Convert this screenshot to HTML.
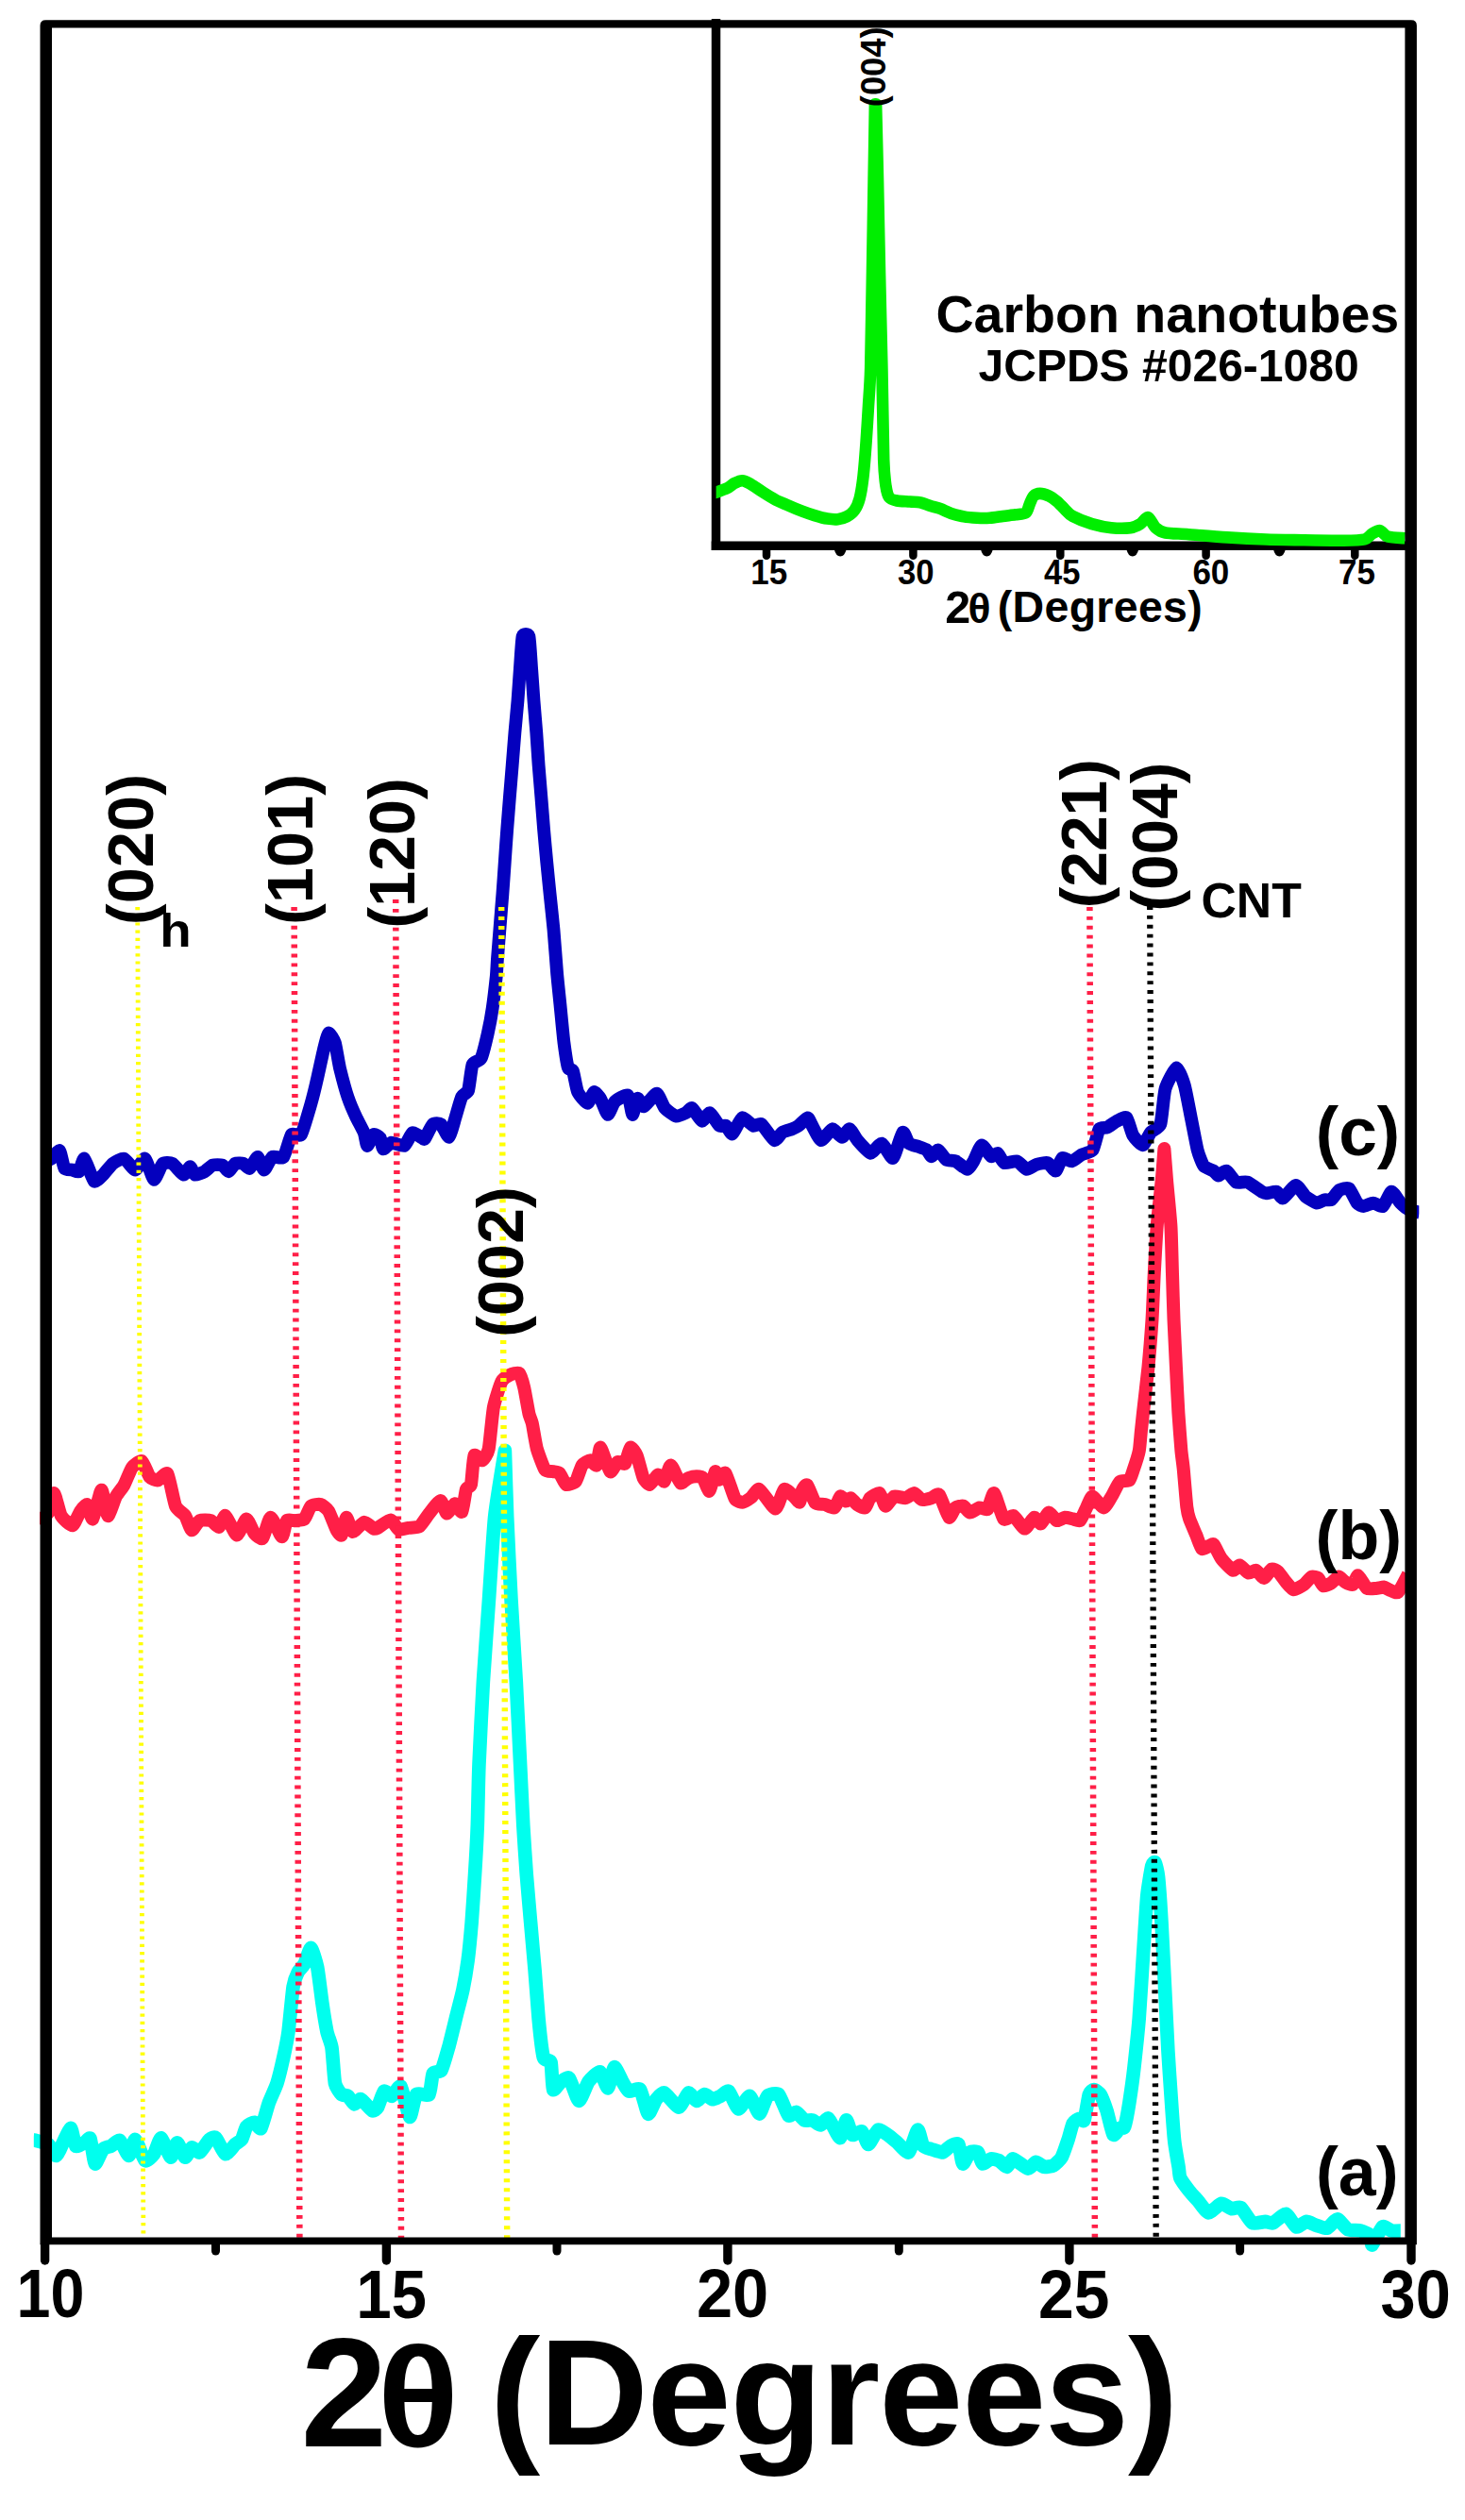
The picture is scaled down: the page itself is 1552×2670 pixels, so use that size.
<!DOCTYPE html>
<html lang="en"><head><meta charset="utf-8"><title>XRD patterns</title>
<style>html,body{margin:0;padding:0;background:#fff}body{width:1552px;height:2670px;overflow:hidden}svg{display:block}text{font-family:"Liberation Sans", sans-serif;font-weight:bold;fill:#000}text.se{font-family:"Liberation Serif",serif}.cv{fill:none;stroke-linejoin:round;stroke-linecap:butt}</style></head><body>
<svg width="1552" height="2670" viewBox="0 0 1552 2670">
<rect width="1552" height="2670" fill="#fff"/>
<defs><clipPath id="cc"><rect x="35.8" y="0" width="1448" height="2670"/></clipPath></defs>
<path class="cv" clip-path="url(#cc)" d="M34.1,2266.9C35.7,2267.4 48.9,2270.4 51.2,2272.0C53.5,2273.6 58.1,2284.5 59.7,2284.0C61.3,2283.5 66.9,2269.6 68.3,2266.9C69.7,2264.2 74.0,2254.3 75.1,2254.9C76.2,2255.5 78.9,2272.3 80.2,2273.7C81.5,2275.1 88.0,2271.0 89.4,2270.3C90.8,2269.6 94.6,2263.9 95.6,2265.9C96.6,2267.9 99.5,2291.5 100.7,2292.5C101.9,2293.5 107.6,2278.8 109.2,2277.1C110.8,2275.4 116.1,2274.5 117.7,2273.7C119.3,2272.9 125.3,2267.0 127.0,2267.9C128.7,2268.8 135.0,2284.1 136.5,2284.0C138.0,2283.9 141.7,2266.4 143.3,2266.9C144.9,2267.4 151.8,2287.7 153.6,2289.1C155.4,2290.5 161.5,2284.5 163.1,2282.3C164.7,2280.1 169.0,2264.9 170.6,2265.2C172.2,2265.5 179.3,2285.2 180.9,2285.7C182.5,2286.2 186.3,2270.3 187.7,2270.3C189.1,2270.3 194.8,2285.2 196.2,2285.7C197.6,2286.2 201.7,2275.9 203.1,2275.4C204.5,2274.9 209.9,2281.3 211.6,2280.5C213.3,2279.7 220.2,2268.3 221.8,2266.9C223.4,2265.5 227.1,2263.8 228.7,2265.2C230.3,2266.6 237.0,2281.7 238.9,2282.3C240.8,2282.9 247.5,2273.4 249.1,2272.0C250.7,2270.6 254.9,2268.6 256.0,2266.9C257.1,2265.2 259.9,2254.9 261.1,2253.2C262.3,2251.5 268.2,2248.6 269.6,2248.8C271.0,2249.0 275.1,2256.8 276.5,2254.9C277.9,2253.0 283.4,2232.0 285.0,2227.6C286.6,2223.2 292.1,2211.6 293.5,2207.2C294.9,2202.8 299.2,2184.9 300.3,2179.9C301.4,2174.9 304.6,2159.5 305.5,2152.6C306.4,2145.7 309.7,2110.6 310.6,2104.8C311.5,2099.0 314.6,2091.6 315.7,2089.4C316.8,2087.2 321.2,2083.2 322.5,2080.9C323.8,2078.6 328.1,2063.5 329.4,2063.8C330.7,2064.1 335.1,2079.0 336.2,2084.3C337.3,2089.6 340.4,2115.5 341.3,2121.8C342.2,2128.1 345.5,2148.2 346.4,2152.6C347.3,2157.0 350.7,2164.6 351.5,2169.6C352.3,2174.6 354.0,2202.7 354.9,2207.2C355.8,2211.7 360.5,2217.9 361.8,2219.1C363.1,2220.3 367.4,2219.9 368.6,2220.8C369.8,2221.7 374.1,2229.1 375.4,2229.4C376.7,2229.7 380.6,2223.6 382.3,2224.2C384.0,2224.8 392.6,2235.4 394.2,2236.2C395.8,2237.0 398.8,2234.7 400.0,2232.8C401.2,2230.9 405.4,2216.8 406.8,2215.7C408.2,2214.6 413.8,2221.3 415.4,2220.8C417.0,2220.3 422.9,2208.6 424.6,2210.6C426.3,2212.6 432.6,2242.2 434.1,2243.0C435.6,2243.8 439.1,2221.3 441.0,2219.1C442.9,2216.9 453.0,2221.1 454.6,2219.1C456.2,2217.1 457.5,2199.2 458.7,2196.9C459.9,2194.6 466.1,2196.0 467.6,2193.5C469.1,2191.0 473.6,2174.9 475.1,2169.6C476.6,2164.3 482.2,2141.1 483.6,2135.5C485.0,2129.9 489.3,2113.5 490.4,2108.2C491.5,2102.9 494.7,2084.1 495.6,2077.5C496.5,2070.9 499.0,2045.0 499.7,2036.5C500.4,2028.0 502.5,1994.7 503.1,1985.3C503.7,1975.9 505.4,1944.8 505.8,1934.1C506.2,1923.4 506.9,1883.0 507.5,1869.0C508.1,1855.0 510.9,1797.7 511.9,1781.7C512.9,1765.7 516.9,1710.5 518.0,1694.5C519.1,1678.5 522.6,1621.6 524.1,1607.2C525.6,1592.8 534.9,1537.0 534.9,1537.0C534.9,1537.0 536.6,1592.8 537.2,1607.2C537.8,1621.6 540.6,1678.5 541.5,1694.5C542.4,1710.5 545.9,1765.7 546.8,1781.7C547.7,1797.7 550.4,1855.0 551.1,1869.0C551.8,1883.0 553.7,1923.4 554.3,1934.1C554.9,1944.8 557.0,1975.9 557.7,1985.3C558.4,1994.7 561.3,2027.1 562.1,2036.5C562.9,2045.9 565.8,2078.3 566.6,2087.7C567.4,2097.1 569.8,2130.4 570.6,2138.9C571.4,2147.4 574.6,2175.7 575.8,2179.9C577.0,2184.1 582.7,2181.9 583.6,2185.0C584.5,2188.1 585.0,2212.1 586.0,2214.0C587.0,2215.9 592.9,2206.6 594.5,2205.5C596.1,2204.4 601.4,2200.1 603.1,2202.0C604.8,2203.9 611.4,2225.6 613.3,2225.9C615.2,2226.2 621.5,2208.3 623.5,2205.5C625.5,2202.7 633.6,2194.6 635.5,2195.2C637.4,2195.8 642.6,2212.8 644.0,2212.3C645.4,2211.8 649.5,2190.7 650.9,2190.1C652.3,2189.5 658.0,2203.2 659.4,2205.5C660.8,2207.8 664.5,2214.9 666.2,2215.7C667.9,2216.5 676.3,2211.8 678.2,2214.0C680.1,2216.2 685.1,2238.7 686.7,2239.6C688.3,2240.5 693.6,2226.2 695.2,2224.2C696.8,2222.2 701.6,2216.6 703.8,2217.4C706.0,2218.2 716.8,2232.8 719.1,2232.8C721.4,2232.8 727.7,2218.0 729.4,2217.4C731.1,2216.8 736.3,2225.7 737.9,2225.9C739.5,2226.1 744.8,2219.3 746.4,2219.1C748.0,2218.9 753.3,2224.0 754.9,2224.2C756.5,2224.4 761.9,2221.6 763.5,2220.8C765.1,2220.0 770.3,2214.4 772.0,2215.7C773.7,2217.0 780.3,2234.0 782.3,2234.5C784.3,2235.0 792.2,2220.3 794.2,2220.8C796.2,2221.3 802.7,2239.6 804.4,2239.6C806.1,2239.6 811.1,2222.7 813.0,2220.8C814.9,2218.9 822.9,2217.2 824.9,2219.1C826.9,2221.0 833.5,2239.6 835.2,2241.3C836.9,2243.0 842.1,2237.4 843.7,2237.9C845.3,2238.4 850.6,2245.6 852.2,2246.4C853.8,2247.2 859.2,2245.9 860.8,2246.4C862.4,2246.9 867.7,2251.7 869.3,2251.5C870.9,2251.3 875.9,2243.4 877.8,2244.7C879.7,2246.0 888.1,2265.0 889.8,2265.2C891.5,2265.4 895.4,2246.7 896.6,2246.4C897.8,2246.1 901.4,2260.7 902.9,2261.8C904.4,2262.9 911.5,2257.5 913.1,2258.4C914.7,2259.3 918.4,2272.2 920.0,2272.0C921.6,2271.8 928.3,2257.6 930.2,2256.7C932.1,2255.8 938.5,2260.6 940.4,2261.8C942.3,2263.0 948.7,2268.6 950.7,2270.3C952.7,2272.0 960.6,2281.7 962.6,2280.5C964.6,2279.3 970.8,2257.3 972.2,2256.7C973.6,2256.1 976.7,2271.8 978.0,2273.7C979.3,2275.6 984.6,2276.5 986.5,2277.1C988.4,2277.7 996.6,2280.8 998.5,2280.5C1000.4,2280.2 1005.4,2274.5 1007.0,2273.7C1008.6,2272.9 1014.3,2270.3 1015.5,2272.0C1016.7,2273.7 1018.9,2291.7 1020.0,2292.5C1021.1,2293.3 1026.0,2281.6 1027.5,2280.5C1029.0,2279.4 1034.8,2279.4 1036.0,2280.5C1037.2,2281.6 1039.8,2291.9 1041.1,2292.5C1042.4,2293.1 1048.1,2287.7 1049.7,2287.4C1051.3,2287.1 1056.6,2288.3 1058.2,2289.1C1059.8,2289.9 1065.3,2296.1 1066.7,2295.9C1068.1,2295.7 1071.5,2287.2 1073.5,2287.4C1075.5,2287.6 1086.7,2297.3 1088.9,2297.6C1091.1,2297.9 1095.8,2291.0 1097.4,2290.8C1099.0,2290.6 1104.3,2295.6 1106.0,2295.9C1107.7,2296.2 1114.5,2295.1 1116.2,2294.2C1117.9,2293.3 1123.3,2288.2 1124.7,2285.7C1126.1,2283.2 1130.5,2270.2 1131.6,2266.9C1132.7,2263.6 1135.6,2251.8 1136.7,2249.8C1137.8,2247.8 1142.4,2245.0 1143.5,2244.7C1144.6,2244.4 1147.7,2248.7 1148.6,2246.4C1149.5,2244.1 1152.9,2222.1 1153.8,2219.1C1154.7,2216.1 1157.8,2214.0 1158.9,2214.0C1160.0,2214.0 1164.5,2217.1 1165.7,2219.1C1166.9,2221.1 1171.2,2232.3 1172.5,2236.2C1173.8,2240.1 1178.1,2260.1 1179.4,2261.8C1180.7,2263.5 1185.1,2255.7 1186.2,2254.9C1187.3,2254.1 1190.4,2255.7 1191.3,2253.2C1192.2,2250.7 1195.5,2233.4 1196.4,2227.6C1197.3,2221.8 1200.6,2198.2 1201.5,2190.1C1202.4,2182.0 1205.8,2149.9 1206.7,2138.9C1207.6,2127.9 1210.3,2082.5 1211.1,2070.6C1211.9,2058.7 1214.4,2017.8 1215.2,2009.2C1216.0,2000.6 1219.5,1980.1 1220.3,1976.8C1221.1,1973.5 1223.1,1972.3 1223.7,1973.4C1224.3,1974.5 1226.5,1982.9 1227.1,1988.7C1227.7,1994.5 1229.9,2025.9 1230.5,2036.5C1231.1,2047.1 1233.4,2092.3 1234.0,2104.8C1234.6,2117.3 1236.8,2162.1 1237.4,2173.0C1238.0,2183.9 1240.2,2215.4 1240.8,2224.2C1241.4,2233.0 1243.5,2262.0 1244.2,2268.6C1244.9,2275.2 1248.0,2292.3 1248.6,2295.9C1249.2,2299.5 1249.3,2305.2 1250.3,2307.5C1251.3,2309.8 1258.0,2318.9 1259.8,2321.2C1261.6,2323.5 1267.5,2330.0 1269.4,2332.1C1271.3,2334.2 1278.0,2344.2 1280.3,2344.4C1282.6,2344.6 1291.7,2335.2 1294.0,2334.8C1296.3,2334.4 1303.0,2339.9 1304.9,2340.3C1306.8,2340.7 1312.5,2337.5 1314.5,2338.9C1316.5,2340.3 1324.3,2353.9 1326.7,2355.3C1329.1,2356.7 1338.4,2353.9 1340.4,2353.9C1342.4,2353.9 1346.6,2356.1 1348.6,2355.3C1350.6,2354.5 1359.9,2345.3 1362.2,2345.7C1364.5,2346.1 1371.2,2358.6 1373.2,2359.4C1375.2,2360.2 1382.1,2354.0 1384.1,2353.9C1386.1,2353.8 1393.0,2357.4 1395.0,2358.0C1397.0,2358.6 1403.9,2361.4 1405.9,2360.8C1407.9,2360.2 1414.8,2351.1 1416.8,2351.2C1418.8,2351.3 1425.5,2361.0 1427.8,2362.1C1430.1,2363.2 1439.2,2362.9 1441.4,2363.5C1443.6,2364.1 1451.2,2367.5 1452.3,2368.9C1453.4,2370.3 1452.6,2379.4 1453.7,2378.5C1454.8,2377.6 1462.7,2360.8 1464.6,2359.4C1466.5,2358.0 1472.1,2363.1 1474.2,2363.5C1476.3,2363.9 1486.6,2363.5 1487.8,2363.5" stroke="#00ffee" stroke-width="14.6"/>
<clipPath id="cr"><rect x="42" y="0" width="1460" height="2670"/></clipPath>
<path class="cv" clip-path="url(#cr)" d="M40.3,1612.8C41.3,1611.9 49.6,1605.4 51.2,1602.6C52.8,1599.8 56.1,1581.8 57.3,1582.1C58.5,1582.4 63.0,1602.9 64.8,1606.0C66.6,1609.1 74.9,1616.7 76.8,1616.2C78.7,1615.7 83.9,1602.9 85.3,1600.9C86.7,1598.9 91.0,1593.2 92.2,1594.0C93.4,1594.8 96.9,1610.8 98.3,1609.4C99.7,1608.0 106.0,1579.0 107.5,1578.7C109.0,1578.4 112.9,1605.4 114.3,1606.0C115.7,1606.6 121.3,1588.5 122.9,1585.5C124.5,1582.5 129.8,1576.3 131.4,1573.5C133.0,1570.7 138.2,1557.1 139.9,1554.8C141.6,1552.5 148.5,1547.1 150.2,1548.0C151.9,1548.9 157.1,1563.1 158.7,1565.0C160.3,1566.9 165.5,1568.7 167.2,1568.4C168.9,1568.1 175.8,1559.1 177.5,1561.6C179.2,1564.1 184.3,1591.6 186.0,1595.7C187.7,1599.8 194.6,1603.7 196.2,1606.0C197.8,1608.3 201.7,1620.8 203.1,1621.3C204.5,1621.8 209.7,1612.0 211.6,1611.1C213.5,1610.2 221.6,1610.5 223.5,1611.1C225.4,1611.7 230.7,1618.4 232.1,1617.9C233.5,1617.4 237.2,1605.2 238.9,1606.0C240.6,1606.8 248.9,1626.2 250.9,1626.5C252.9,1626.8 259.4,1609.6 261.1,1609.4C262.8,1609.2 268.0,1622.8 269.6,1624.7C271.2,1626.6 276.6,1631.5 278.2,1629.9C279.8,1628.3 284.8,1607.9 286.7,1607.7C288.6,1607.5 297.0,1627.9 298.6,1628.2C300.2,1628.5 302.5,1612.7 303.8,1611.1C305.1,1609.5 310.6,1611.3 312.3,1611.1C314.0,1610.9 320.9,1610.8 322.5,1609.4C324.1,1608.0 327.8,1597.1 329.4,1595.7C331.0,1594.3 337.9,1593.5 339.6,1594.0C341.3,1594.5 346.5,1598.4 348.1,1600.9C349.7,1603.4 355.4,1619.0 356.7,1621.3C358.0,1623.6 360.9,1627.7 361.8,1626.5C362.7,1625.3 365.8,1608.0 366.9,1607.7C368.0,1607.4 372.0,1622.5 373.7,1623.0C375.4,1623.5 383.7,1613.1 385.7,1612.8C387.7,1612.5 394.6,1619.0 395.9,1619.6C397.2,1620.2 398.4,1619.7 400.0,1618.9C401.6,1618.1 411.7,1610.2 413.7,1610.4C415.7,1610.6 420.5,1619.8 422.2,1620.6C423.9,1621.4 430.4,1619.2 432.4,1618.9C434.4,1618.6 442.4,1618.6 444.4,1617.2C446.4,1615.8 452.6,1606.1 454.6,1603.6C456.6,1601.1 464.9,1589.9 466.6,1589.9C468.3,1589.9 472.0,1603.3 473.4,1603.6C474.8,1603.9 480.4,1593.5 481.9,1593.3C483.4,1593.1 488.3,1603.3 489.4,1601.9C490.5,1600.5 493.0,1580.7 493.9,1578.0C494.8,1575.3 498.2,1576.2 499.0,1572.9C499.8,1569.6 501.3,1544.5 502.4,1542.2C503.5,1539.9 509.5,1547.9 510.9,1547.3C512.3,1546.7 516.6,1540.5 517.7,1535.3C518.8,1530.1 521.6,1497.6 522.9,1491.0C524.2,1484.4 529.8,1466.8 531.4,1463.7C533.0,1460.6 538.2,1457.6 539.9,1456.8C541.6,1456.0 548.8,1453.8 550.2,1455.1C551.6,1456.4 554.4,1466.6 555.3,1470.5C556.2,1474.4 559.6,1494.4 560.4,1497.8C561.2,1501.2 563.0,1504.6 563.8,1508.0C564.6,1511.4 567.6,1530.8 568.9,1535.3C570.2,1539.8 575.9,1555.3 577.5,1557.5C579.1,1559.7 584.6,1558.9 586.0,1559.2C587.4,1559.5 591.5,1559.6 592.8,1560.9C594.1,1562.2 598.1,1572.1 599.7,1572.9C601.3,1573.7 608.3,1571.4 609.9,1569.5C611.5,1567.6 615.3,1554.4 616.7,1552.4C618.1,1550.4 623.9,1547.3 625.3,1547.3C626.7,1547.3 631.1,1553.7 632.1,1552.4C633.1,1551.1 634.9,1533.0 636.2,1533.6C637.5,1534.2 644.7,1557.8 646.4,1559.2C648.1,1560.6 652.9,1549.8 654.3,1549.0C655.7,1548.2 660.9,1552.1 662.1,1550.7C663.3,1549.3 666.7,1534.4 667.9,1533.6C669.1,1532.8 673.4,1539.2 674.7,1542.2C676.0,1545.2 680.3,1563.2 681.6,1566.0C682.9,1568.8 687.0,1573.2 688.4,1572.9C689.8,1572.6 695.5,1562.9 696.9,1562.6C698.3,1562.3 702.5,1570.4 703.8,1569.5C705.1,1568.6 709.0,1552.2 710.6,1552.4C712.2,1552.6 719.1,1570.0 720.8,1571.2C722.5,1572.4 727.8,1566.6 729.4,1566.0C731.0,1565.4 736.5,1564.3 737.9,1564.3C739.3,1564.3 743.5,1564.6 744.7,1566.0C745.9,1567.4 750.3,1580.3 751.5,1579.7C752.7,1579.1 756.8,1560.3 757.7,1559.2C758.6,1558.1 760.8,1567.5 761.8,1567.7C762.8,1567.9 767.0,1559.0 768.6,1560.9C770.2,1562.8 777.1,1585.4 778.8,1588.2C780.5,1591.0 785.8,1591.8 787.4,1591.6C789.0,1591.4 794.3,1587.7 795.9,1586.5C797.5,1585.3 802.1,1576.9 804.4,1578.0C806.7,1579.1 819.1,1598.5 821.5,1598.5C823.9,1598.5 829.0,1579.3 830.7,1578.0C832.4,1576.7 838.8,1583.6 840.3,1584.8C841.8,1586.0 846.2,1592.2 847.1,1591.6C848.0,1591.0 849.3,1580.4 850.0,1578.7C850.7,1577.0 853.8,1572.3 855.1,1573.5C856.4,1574.7 862.0,1590.4 863.7,1592.3C865.4,1594.2 872.0,1593.5 873.9,1594.0C875.8,1594.5 882.6,1598.2 884.1,1597.4C885.6,1596.6 889.2,1586.1 890.3,1585.5C891.4,1584.9 895.1,1590.4 896.1,1590.6C897.1,1590.8 900.1,1586.9 901.2,1587.2C902.3,1587.5 906.6,1593.1 908.0,1594.0C909.4,1594.9 915.3,1598.0 916.6,1597.4C917.9,1596.8 920.3,1588.6 921.7,1587.2C923.1,1585.8 930.4,1581.3 931.9,1582.1C933.4,1582.9 936.7,1595.4 938.1,1595.7C939.5,1596.0 945.4,1586.3 947.3,1585.5C949.2,1584.7 957.2,1587.5 959.2,1587.2C961.2,1586.9 967.2,1581.9 968.8,1582.1C970.4,1582.3 974.7,1588.4 976.3,1588.9C977.9,1589.4 984.8,1587.7 986.5,1587.2C988.2,1586.7 993.4,1581.9 995.1,1583.8C996.8,1585.7 1003.7,1606.5 1005.3,1607.7C1006.9,1608.9 1010.7,1598.5 1012.1,1597.4C1013.5,1596.3 1019.2,1595.2 1020.6,1595.7C1022.0,1596.2 1025.9,1602.4 1027.5,1602.6C1029.1,1602.8 1036.0,1597.7 1037.7,1597.4C1039.4,1597.1 1044.8,1600.5 1046.2,1599.1C1047.6,1597.7 1051.5,1581.2 1053.1,1582.1C1054.7,1583.0 1061.4,1607.2 1063.3,1609.4C1065.2,1611.6 1071.5,1605.1 1073.5,1606.0C1075.5,1606.9 1083.5,1619.4 1085.5,1619.6C1087.5,1619.8 1094.1,1608.2 1095.7,1607.7C1097.3,1607.2 1101.2,1615.0 1102.6,1614.5C1104.0,1614.0 1109.5,1602.9 1111.1,1602.6C1112.7,1602.3 1118.0,1610.6 1119.6,1611.1C1121.2,1611.6 1126.6,1607.9 1128.2,1607.7C1129.8,1607.5 1135.2,1609.1 1136.7,1609.4C1138.2,1609.7 1143.0,1612.0 1144.2,1611.1C1145.4,1610.2 1149.1,1601.4 1150.3,1599.1C1151.5,1596.8 1155.5,1585.7 1157.2,1585.5C1158.9,1585.3 1167.2,1597.4 1169.1,1597.4C1171.0,1597.4 1176.0,1588.0 1177.6,1585.5C1179.2,1583.0 1184.5,1571.7 1186.2,1570.1C1187.9,1568.5 1195.1,1569.6 1196.4,1568.4C1197.7,1567.2 1199.8,1559.9 1200.8,1557.0C1201.8,1554.1 1206.1,1540.7 1206.8,1537.1C1207.5,1533.5 1208.4,1520.9 1208.8,1517.3C1209.2,1513.7 1210.2,1503.8 1210.9,1497.4C1211.6,1491.0 1215.6,1457.0 1216.5,1447.9C1217.4,1438.8 1219.9,1407.4 1220.5,1398.3C1221.1,1389.2 1222.3,1357.8 1222.8,1348.7C1223.3,1339.6 1225.0,1308.0 1225.7,1299.0C1226.4,1290.0 1230.1,1257.5 1230.8,1250.0C1231.5,1242.5 1233.4,1217.0 1233.4,1217.0C1233.4,1217.0 1235.4,1242.5 1236.0,1250.0C1236.6,1257.5 1239.9,1289.8 1240.4,1299.0C1241.0,1308.2 1241.7,1340.9 1242.0,1350.0C1242.3,1359.1 1243.1,1388.8 1243.5,1398.0C1243.9,1407.2 1245.6,1440.9 1246.0,1450.0C1246.4,1459.1 1247.9,1489.0 1248.4,1497.0C1248.9,1505.0 1250.9,1531.5 1251.4,1537.0C1251.9,1542.5 1253.3,1551.5 1253.8,1557.0C1254.3,1562.5 1256.7,1591.8 1257.3,1596.6C1257.9,1601.4 1259.1,1606.3 1260.0,1609.0C1260.9,1611.7 1266.0,1623.4 1267.2,1626.3C1268.4,1629.2 1271.9,1639.9 1273.2,1641.0C1274.5,1642.1 1279.7,1638.3 1280.9,1637.9C1282.1,1637.5 1284.6,1635.3 1285.8,1636.5C1287.0,1637.7 1292.1,1649.0 1294.0,1651.5C1295.9,1654.0 1304.5,1663.2 1306.3,1663.8C1308.1,1664.4 1311.6,1658.1 1313.1,1658.4C1314.6,1658.7 1321.0,1666.1 1322.6,1666.6C1324.2,1667.1 1329.3,1663.3 1330.8,1663.8C1332.3,1664.3 1337.5,1672.1 1339.0,1672.0C1340.5,1671.9 1345.8,1663.1 1347.2,1662.5C1348.6,1661.9 1352.6,1664.0 1354.0,1665.2C1355.4,1666.4 1360.7,1674.3 1362.2,1676.1C1363.7,1677.9 1368.6,1684.1 1370.4,1684.3C1372.2,1684.5 1379.6,1680.1 1381.4,1678.8C1383.2,1677.5 1388.1,1671.2 1389.5,1670.6C1390.9,1670.0 1395.3,1671.1 1396.4,1672.0C1397.5,1672.9 1400.6,1679.7 1401.8,1680.2C1403.0,1680.7 1408.5,1678.4 1410.0,1677.5C1411.5,1676.6 1416.8,1670.7 1418.2,1670.6C1419.6,1670.5 1423.6,1675.3 1425.0,1676.1C1426.4,1676.9 1431.9,1679.4 1433.2,1678.8C1434.5,1678.2 1437.3,1668.9 1438.7,1669.3C1440.1,1669.7 1446.4,1681.7 1448.2,1682.9C1450.0,1684.1 1456.2,1683.0 1457.8,1682.9C1459.4,1682.8 1464.7,1681.5 1466.0,1681.6C1467.3,1681.7 1470.1,1683.8 1471.5,1684.3C1472.9,1684.8 1479.1,1688.5 1481.0,1687.0C1482.9,1685.5 1490.9,1669.7 1491.9,1667.9" stroke="#ff1f47" stroke-width="14"/>
<clipPath id="cb"><rect x="46" y="0" width="1457.3" height="2670"/></clipPath>
<path class="cv" clip-path="url(#cb)" d="M42.7,1232.8C43.8,1232.3 52.7,1228.9 54.6,1227.6C56.5,1226.3 61.8,1218.2 63.1,1219.1C64.4,1220.0 67.0,1236.0 68.3,1237.9C69.6,1239.8 75.4,1239.3 76.8,1239.6C78.2,1239.9 82.4,1242.4 83.6,1241.3C84.8,1240.2 87.9,1226.7 89.4,1227.6C90.9,1228.5 97.9,1249.9 99.7,1251.5C101.5,1253.1 107.4,1246.4 109.2,1244.7C111.0,1243.0 117.5,1234.4 119.5,1232.8C121.5,1231.2 129.2,1227.0 131.4,1227.6C133.6,1228.2 141.3,1239.6 143.3,1239.6C145.3,1239.6 151.8,1226.7 153.6,1227.6C155.4,1228.5 161.4,1249.3 163.1,1249.8C164.8,1250.3 170.6,1234.4 172.4,1232.8C174.2,1231.2 180.6,1231.7 182.6,1232.8C184.6,1233.9 192.8,1244.4 194.5,1244.7C196.2,1245.0 200.3,1236.2 201.4,1236.2C202.5,1236.2 205.1,1244.2 206.5,1244.7C207.9,1245.2 215.0,1242.2 216.7,1241.3C218.4,1240.4 223.6,1235.1 225.3,1234.5C227.0,1233.9 233.9,1233.9 235.5,1234.5C237.1,1235.1 241.1,1241.5 242.3,1241.3C243.5,1241.1 247.7,1233.6 249.1,1232.8C250.5,1232.0 256.3,1232.3 257.7,1232.8C259.1,1233.3 263.1,1238.5 264.5,1237.9C265.9,1237.3 271.6,1225.7 273.0,1225.9C274.4,1226.1 278.5,1239.6 279.9,1239.6C281.3,1239.6 286.5,1227.2 288.4,1225.9C290.3,1224.6 298.4,1228.1 300.3,1225.9C302.2,1223.7 307.2,1204.2 308.9,1202.0C310.6,1199.8 317.2,1205.0 319.1,1202.0C321.0,1199.0 327.8,1175.1 329.4,1169.6C331.0,1164.1 335.0,1147.6 336.2,1142.3C337.4,1137.0 341.9,1116.0 343.0,1111.6C344.1,1107.2 347.0,1095.1 348.1,1094.5C349.2,1093.9 353.8,1101.4 354.9,1104.8C356.0,1108.2 358.8,1126.8 360.1,1132.1C361.4,1137.4 367.0,1158.1 368.6,1162.8C370.2,1167.5 375.5,1179.9 377.1,1183.3C378.7,1186.7 384.6,1197.5 385.7,1200.3C386.8,1203.1 388.2,1213.8 389.1,1214.0C390.0,1214.2 394.7,1202.8 395.9,1202.0C397.1,1201.2 401.8,1204.1 402.7,1205.5C403.6,1206.9 405.0,1216.9 406.1,1217.4C407.2,1217.9 412.7,1210.9 414.7,1210.6C416.7,1210.3 426.3,1214.9 428.3,1214.0C430.3,1213.1 435.2,1201.1 436.9,1200.3C438.6,1199.5 445.9,1204.9 447.1,1205.5C448.3,1206.1 449.0,1207.8 450.0,1206.5C451.0,1205.2 456.9,1192.5 458.5,1191.1C460.1,1189.7 465.5,1189.8 467.1,1191.1C468.7,1192.4 474.2,1205.4 475.6,1204.8C477.0,1204.2 481.2,1188.2 482.4,1184.3C483.6,1180.4 487.9,1164.8 489.2,1162.1C490.5,1159.4 495.1,1158.4 496.1,1155.3C497.1,1152.2 499.3,1131.1 500.5,1128.0C501.7,1124.9 508.2,1124.2 509.7,1121.2C511.2,1118.2 515.5,1100.4 516.6,1095.6C517.7,1090.8 520.9,1073.9 521.7,1068.3C522.5,1062.7 525.3,1038.9 525.8,1034.1C526.3,1029.3 526.6,1020.2 527.0,1015.4C527.4,1010.6 529.2,987.6 529.7,981.3C530.2,975.0 531.9,953.5 532.4,947.2C532.9,940.9 534.4,919.3 534.8,913.0C535.2,906.7 536.7,885.2 537.2,878.9C537.7,872.6 539.4,851.1 539.9,844.8C540.4,838.5 542.2,816.9 542.7,810.6C543.2,804.3 544.9,782.8 545.4,776.5C545.9,770.2 548.0,748.7 548.5,742.4C549.0,736.1 550.4,714.6 550.9,708.3C551.4,702.0 552.7,677.2 553.6,674.1C554.5,671.0 559.5,671.0 560.4,674.1C561.3,677.2 562.6,702.0 563.1,708.3C563.6,714.6 565.0,736.1 565.5,742.4C566.0,748.7 567.8,770.2 568.3,776.5C568.8,782.8 570.1,804.3 570.6,810.6C571.1,816.9 572.9,838.5 573.4,844.8C573.9,851.1 575.6,872.6 576.1,878.9C576.6,885.2 578.6,906.7 579.2,913.0C579.8,919.3 581.9,940.6 582.6,947.2C583.3,953.8 585.8,977.4 586.5,985.0C587.2,992.6 589.4,1022.7 590.0,1030.0C590.6,1037.3 592.8,1058.1 593.5,1065.0C594.2,1071.9 596.7,1098.9 597.5,1105.0C598.3,1111.1 601.0,1128.7 601.9,1131.4C602.8,1134.1 606.1,1132.5 607.0,1134.8C607.9,1137.1 610.7,1153.9 612.1,1157.0C613.5,1160.1 620.8,1168.9 622.4,1168.9C624.0,1168.9 628.0,1157.5 629.2,1157.0C630.4,1156.5 634.7,1161.6 636.0,1163.8C637.3,1166.0 642.5,1180.6 643.9,1180.9C645.3,1181.2 649.5,1169.1 651.4,1167.2C653.3,1165.3 663.3,1159.1 665.0,1160.4C666.7,1161.7 669.2,1180.6 670.1,1180.9C671.0,1181.2 674.2,1164.6 675.3,1163.8C676.4,1163.0 680.2,1172.9 682.1,1172.4C684.0,1171.9 693.7,1158.5 695.7,1158.7C697.7,1158.9 702.4,1171.9 704.3,1174.1C706.2,1176.3 714.2,1182.1 716.2,1182.6C718.2,1183.1 724.9,1180.0 726.5,1179.2C728.1,1178.4 731.7,1173.3 733.3,1174.1C734.9,1174.9 741.8,1187.2 743.5,1187.7C745.2,1188.2 750.3,1178.7 752.0,1179.2C753.7,1179.7 760.7,1191.6 762.3,1192.8C763.9,1194.0 767.9,1192.0 769.1,1192.8C770.3,1193.6 774.3,1202.2 775.9,1201.4C777.5,1200.6 784.2,1185.1 786.2,1184.3C788.2,1183.5 796.2,1192.2 798.1,1192.8C800.0,1193.4 804.7,1189.7 806.7,1191.1C808.7,1192.5 818.3,1207.4 820.3,1208.2C822.3,1209.0 827.1,1200.8 828.8,1199.7C830.5,1198.6 837.5,1196.8 839.1,1196.2C840.7,1195.6 844.4,1193.9 845.9,1192.8C847.4,1191.7 854.2,1184.5 855.5,1184.3C856.8,1184.1 858.3,1188.9 859.6,1191.1C860.9,1193.3 867.8,1207.7 869.8,1208.2C871.8,1208.7 879.7,1196.5 881.7,1196.2C883.7,1195.9 890.3,1204.8 892.0,1204.8C893.7,1204.8 898.5,1195.9 900.0,1196.2C901.5,1196.5 906.5,1205.9 908.5,1208.2C910.5,1210.5 919.9,1221.5 922.2,1221.8C924.5,1222.1 931.9,1211.1 934.1,1211.6C936.3,1212.1 944.1,1228.1 946.1,1227.0C948.1,1225.9 954.7,1201.1 956.3,1199.7C957.9,1198.3 961.5,1210.2 963.1,1211.6C964.7,1213.0 971.7,1214.4 973.4,1215.0C975.1,1215.6 980.7,1217.5 981.9,1218.4C983.1,1219.3 985.9,1225.3 987.0,1225.3C988.1,1225.3 992.5,1218.1 993.9,1218.4C995.3,1218.7 1000.7,1227.6 1002.4,1228.7C1004.1,1229.8 1010.6,1229.5 1012.6,1230.4C1014.6,1231.3 1022.9,1238.9 1024.6,1238.9C1026.3,1238.9 1030.0,1232.7 1031.4,1230.4C1032.8,1228.1 1038.2,1213.8 1039.9,1213.3C1041.6,1212.8 1048.6,1224.5 1050.2,1225.3C1051.8,1226.1 1055.8,1221.2 1057.0,1221.8C1058.2,1222.4 1061.9,1231.3 1063.8,1232.1C1065.7,1232.9 1075.3,1229.8 1077.5,1230.4C1079.7,1231.0 1085.8,1238.6 1087.7,1238.9C1089.6,1239.2 1096.0,1234.4 1098.0,1233.8C1100.0,1233.2 1108.0,1231.5 1109.9,1232.1C1111.8,1232.7 1117.0,1241.1 1118.4,1240.6C1119.8,1240.1 1123.7,1227.9 1125.3,1227.0C1126.9,1226.1 1133.6,1230.7 1135.5,1230.4C1137.4,1230.1 1143.7,1224.6 1145.7,1223.5C1147.7,1222.4 1156.0,1220.9 1157.7,1218.4C1159.4,1215.9 1163.1,1198.4 1164.5,1196.2C1165.9,1194.0 1171.3,1195.3 1173.0,1194.5C1174.7,1193.7 1181.4,1188.6 1183.3,1187.7C1185.2,1186.8 1191.9,1182.9 1193.5,1184.3C1195.1,1185.7 1198.7,1200.4 1200.3,1203.1C1201.9,1205.8 1208.9,1213.6 1210.6,1213.3C1212.3,1213.0 1217.4,1201.7 1219.1,1199.7C1220.8,1197.7 1228.0,1195.3 1229.4,1191.1C1230.8,1186.9 1232.9,1159.1 1234.5,1153.6C1236.1,1148.1 1244.5,1131.7 1246.4,1131.4C1248.3,1131.1 1253.5,1145.4 1254.9,1150.2C1256.3,1155.0 1260.5,1178.0 1261.8,1184.3C1263.1,1190.6 1267.4,1213.7 1268.6,1218.4C1269.8,1223.1 1273.8,1233.5 1275.4,1235.5C1277.0,1237.5 1284.3,1239.7 1285.7,1240.6C1287.1,1241.5 1289.6,1245.7 1290.8,1245.7C1292.0,1245.7 1297.6,1240.0 1299.3,1240.6C1301.0,1241.2 1307.6,1251.5 1309.6,1252.6C1311.6,1253.7 1319.0,1251.7 1321.5,1252.6C1324.0,1253.5 1335.0,1261.7 1336.9,1262.8C1338.8,1263.9 1340.7,1264.3 1342.1,1264.3C1343.5,1264.3 1350.7,1262.1 1352.3,1262.6C1353.9,1263.1 1357.3,1270.1 1359.2,1269.5C1361.1,1268.9 1370.6,1256.0 1372.8,1255.8C1375.0,1255.6 1381.1,1266.0 1383.1,1267.7C1385.1,1269.4 1393.1,1274.3 1395.0,1274.6C1396.9,1274.9 1402.1,1271.5 1403.5,1271.2C1404.9,1270.9 1409.0,1272.1 1410.4,1271.2C1411.8,1270.3 1417.2,1262.0 1418.9,1260.9C1420.6,1259.8 1427.4,1257.9 1429.1,1259.2C1430.8,1260.5 1436.3,1272.9 1437.7,1274.6C1439.1,1276.3 1442.9,1278.0 1444.5,1278.0C1446.1,1278.0 1452.8,1274.6 1454.7,1274.6C1456.6,1274.6 1463.2,1279.1 1465.0,1278.0C1466.8,1276.9 1472.5,1262.9 1474.2,1262.6C1475.9,1262.3 1482.0,1272.9 1483.7,1274.6C1485.4,1276.3 1490.4,1280.5 1492.3,1281.4C1494.2,1282.3 1503.1,1284.5 1504.2,1284.8" stroke="#0400be" stroke-width="13.8"/>
<line x1="145.7" y1="961" x2="151.9" y2="2372" stroke="#ffff00" stroke-width="4.8" stroke-dasharray="3.2 5.0"/>
<line x1="311.6" y1="961" x2="317.4" y2="2372" stroke="#ff1f47" stroke-width="6.5" stroke-dasharray="3.9 6"/>
<line x1="419.2" y1="953" x2="425.0" y2="2372" stroke="#ff1f47" stroke-width="6.5" stroke-dasharray="3.9 6"/>
<line x1="531.2" y1="961" x2="537.2" y2="2372" stroke="#ffff00" stroke-width="6.4" stroke-dasharray="4.0 5.98"/>
<line x1="1154.4" y1="961" x2="1159.9" y2="2372" stroke="#ff1f47" stroke-width="6.5" stroke-dasharray="3.9 6"/>
<line x1="1218.2" y1="960" x2="1224.7" y2="2372" stroke="#000" stroke-width="6.3" stroke-dasharray="3.9 6"/>
<g stroke="#000" fill="none">
<line x1="758.5" y1="20" x2="758.5" y2="583" stroke-width="9.5"/>
<line x1="753.7" y1="578.3" x2="1490" y2="578.3" stroke-width="9.4"/>
<line x1="812" y1="580" x2="812" y2="588.7" stroke-width="8.5" stroke-linecap="round"/>
<line x1="967.4" y1="580" x2="967.4" y2="588.7" stroke-width="8.5" stroke-linecap="round"/>
<line x1="1123.3" y1="580" x2="1123.3" y2="588.7" stroke-width="8.5" stroke-linecap="round"/>
<line x1="1277.6" y1="580" x2="1277.6" y2="588.7" stroke-width="8.5" stroke-linecap="round"/>
<line x1="1435.3" y1="580" x2="1435.3" y2="588.7" stroke-width="8.5" stroke-linecap="round"/>
<path d="M883.7,582 L896.7,582 Q894.7,589.6 890.2,589.6 Q885.7,589.6 883.7,582 Z" fill="#000" stroke="none"/>
<path d="M1038.9,582 L1051.9,582 Q1049.9,589.6 1045.4,589.6 Q1040.9,589.6 1038.9,582 Z" fill="#000" stroke="none"/>
<path d="M1193.3,582 L1206.3,582 Q1204.3,589.6 1199.8,589.6 Q1195.3,589.6 1193.3,582 Z" fill="#000" stroke="none"/>
<path d="M1348.9,582 L1361.9,582 Q1359.9,589.6 1355.4,589.6 Q1350.9,589.6 1348.9,582 Z" fill="#000" stroke="none"/>
</g>
<clipPath id="cg"><rect x="758.6" y="0" width="731" height="2670"/></clipPath>
<path class="cv" clip-path="url(#cg)" d="M755.0,522.9C757.0,522.2 766.9,518.9 770.0,517.4C773.1,515.9 776.0,513.0 778.2,511.9C780.4,510.8 784.2,509.1 786.4,509.2C788.6,509.3 791.7,510.9 794.6,512.5C797.5,514.1 804.7,519.2 808.3,521.5C811.9,523.8 818.3,527.8 821.9,529.7C825.5,531.6 832.0,534.1 835.6,535.7C839.2,537.3 845.6,540.0 849.2,541.4C852.8,542.8 859.3,545.0 862.9,546.1C866.5,547.2 873.2,549.1 876.5,549.6C879.8,550.1 884.7,550.5 887.4,550.2C890.1,549.9 894.6,548.7 897.0,547.4C899.4,546.1 903.4,543.1 905.2,540.6C907.0,538.1 909.3,533.2 910.6,528.3C911.9,523.4 913.7,512.0 914.6,504.0C915.5,496.0 916.9,477.9 917.6,468.0C918.3,458.1 919.4,440.4 920.0,430.0C920.6,419.6 921.7,408.9 922.2,390.0C922.7,371.1 923.5,314.7 924.0,288.0C924.5,261.3 925.2,213.7 925.6,190.0C926.0,166.3 926.9,110.2 926.9,110.2C926.9,110.2 928.1,110.2 928.1,110.2C928.1,110.2 929.5,166.3 930.0,190.0C930.5,213.7 931.4,261.3 932.0,288.0C932.6,314.7 933.8,363.5 934.4,390.0C935.0,416.5 935.7,470.3 936.2,487.0C936.7,503.7 937.7,509.7 938.5,515.0C939.3,520.3 940.4,524.9 942.0,527.0C943.6,529.1 947.3,529.9 950.2,530.5C953.1,531.1 960.6,531.3 963.9,531.6C967.2,531.9 971.9,531.8 974.8,532.4C977.7,533.0 982.8,535.1 985.7,536.0C988.6,536.9 993.8,538.1 996.7,539.2C999.6,540.3 1004.3,542.8 1007.6,543.9C1010.9,545.0 1017.6,546.7 1021.2,547.4C1024.8,548.1 1031.3,548.6 1034.9,548.8C1038.5,549.0 1044.9,549.1 1048.5,548.8C1052.1,548.5 1058.6,547.4 1062.2,546.9C1065.8,546.4 1072.5,545.8 1075.8,545.3C1079.1,544.8 1084.8,544.8 1086.8,543.3C1088.8,541.8 1089.8,536.2 1090.9,533.8C1092.0,531.4 1093.4,527.1 1094.9,525.6C1096.4,524.1 1099.6,522.9 1101.8,522.9C1104.0,522.9 1108.9,524.5 1111.3,525.6C1113.7,526.7 1117.3,529.3 1119.5,531.1C1121.7,532.9 1125.5,537.1 1127.7,539.2C1129.9,541.3 1132.4,544.8 1136.3,546.9C1140.2,549.0 1151.3,553.5 1156.8,555.1C1162.3,556.7 1171.8,558.7 1177.3,559.2C1182.8,559.7 1193.6,559.7 1197.7,559.2C1201.8,558.7 1205.5,556.6 1208.0,555.1C1210.5,553.6 1214.0,547.7 1216.2,548.2C1218.4,548.7 1221.9,557.0 1224.4,559.2C1226.9,561.4 1230.0,563.6 1234.6,564.5C1239.2,565.4 1250.5,565.5 1259.2,566.2C1267.9,566.9 1289.2,568.7 1300.1,569.4C1311.0,570.1 1330.2,571.1 1341.1,571.5C1352.0,571.9 1371.1,572.1 1382.0,572.3C1392.9,572.5 1414.5,572.8 1423.0,572.7C1431.5,572.6 1441.4,572.5 1445.5,571.5C1449.6,570.5 1451.5,566.7 1453.7,565.4C1455.9,564.1 1459.7,561.7 1461.9,562.1C1464.1,562.5 1466.6,567.5 1470.1,568.6C1473.6,569.7 1486.0,570.1 1488.5,570.3" stroke="#00ee00" stroke-width="12.6"/>
<g stroke="#000" fill="none">
<path fill="#000" stroke="none" fill-rule="evenodd" d="M42.5,2378.2 L42.5,27 Q42.5,21.2 48.5,21.2 L1495,21.2 Q1500.9,21.2 1500.9,27 L1500.9,2378.2 Z M55,2370.4 L55,29.5 L1488.4,29.5 L1488.4,2370.4 Z"/>
<line x1="47.6" y1="2377" x2="47.6" y2="2395" stroke-width="9.4" stroke-linecap="round"/>
<line x1="409.4" y1="2377" x2="409.4" y2="2395" stroke-width="9.4" stroke-linecap="round"/>
<line x1="770.9" y1="2377" x2="770.9" y2="2395" stroke-width="9.4" stroke-linecap="round"/>
<line x1="1132.9" y1="2377" x2="1132.9" y2="2395" stroke-width="9.4" stroke-linecap="round"/>
<line x1="1495" y1="2377" x2="1495" y2="2395" stroke-width="9.4" stroke-linecap="round"/>
<line x1="228.5" y1="2377" x2="228.5" y2="2385" stroke-width="9" stroke-linecap="round"/>
<line x1="590" y1="2377" x2="590" y2="2385" stroke-width="9" stroke-linecap="round"/>
<line x1="952.3" y1="2377" x2="952.3" y2="2385" stroke-width="9" stroke-linecap="round"/>
<line x1="1313.6" y1="2377" x2="1313.6" y2="2385" stroke-width="9" stroke-linecap="round"/>
</g>
<g transform="matrix(0.9225,0,0,1.0265,-259.15,1120.91)"><text x="300" y="1300" font-size="70" >10</text></g>
<g transform="matrix(0.9625,0,0,1.0347,88.40,1110.50)"><text x="300" y="1300" font-size="70" >15</text></g>
<g transform="matrix(0.9795,0,0,1.0367,444.11,1107.64)"><text x="300" y="1300" font-size="70" >20</text></g>
<g transform="matrix(0.9676,0,0,1.0408,809.79,1102.54)"><text x="300" y="1300" font-size="70" >25</text></g>
<g transform="matrix(0.9521,0,0,1.0347,1176.98,1110.40)"><text x="300" y="1300" font-size="70" >30</text></g>
<g transform="matrix(1.0031,0,0,1.0099,-139.38,-332.67)"><text transform="translate(300,1300) rotate(-90)" font-size="68">(020)</text></g>
<g transform="matrix(1.0016,0,0,1.0086,31.01,-331.16)"><text transform="translate(300,1300) rotate(-90)" font-size="68">(101)</text></g>
<g transform="matrix(0.9969,0,0,1.0060,139.68,-324.02)"><text transform="translate(300,1300) rotate(-90)" font-size="68">(120)</text></g>
<g transform="matrix(1.0125,0,0,1.0066,249.77,108.42)"><text transform="translate(300,1300) rotate(-90)" font-size="68">(002)</text></g>
<g transform="matrix(0.9969,0,0,0.9947,872.78,-330.93)"><text transform="translate(300,1300) rotate(-90)" font-size="68">(221)</text></g>
<g transform="matrix(0.9984,0,0,0.9947,947.39,-327.53)"><text transform="translate(300,1300) rotate(-90)" font-size="68">(004)</text></g>
<g transform="matrix(1.0958,0,0,0.9972,-159.54,-292.99)"><text x="300" y="1300" font-size="50" >h</text></g>
<g transform="matrix(1.0350,0,0,1.0429,961.93,-383.91)"><text x="300" y="1300" font-size="50" >CNT</text></g>
<g transform="matrix(1.0256,0,0,1.0348,1086.21,980.47)"><text x="300" y="1300" font-size="70" >(a)</text></g>
<g transform="matrix(1.0244,0,0,1.0424,1086.19,297.21)"><text x="300" y="1300" font-size="70" >(b)</text></g>
<g transform="matrix(1.0449,0,0,1.0409,1080.36,-129.10)"><text x="300" y="1300" font-size="70" >(c)</text></g>
<g transform="matrix(1.0057,0,0,1.0100,636.14,-1199.78)"><text transform="translate(300,1300) rotate(-90)" font-size="36">(004)</text></g>
<g transform="matrix(1.0104,0,0,1.0025,688.37,-951.15)"><text x="300" y="1300" font-size="55" >Carbon nanotubes</text></g>
<g transform="matrix(1.0010,0,0,1.0212,736.20,-923.98)"><text x="300" y="1300" font-size="48" >JCPDS #026-1080</text></g>
<g transform="matrix(1.0000,0,0,1.0292,495.20,-718.92)"><text x="300" y="1300" font-size="35" >15</text></g>
<g transform="matrix(0.9917,0,0,1.0292,653.51,-718.92)"><text x="300" y="1300" font-size="35" >30</text></g>
<g transform="matrix(0.9865,0,0,1.0292,810.17,-718.92)"><text x="300" y="1300" font-size="35" >45</text></g>
<g transform="matrix(1.0000,0,0,1.0292,963.40,-718.92)"><text x="300" y="1300" font-size="35" >60</text></g>
<g transform="matrix(1.0000,0,0,1.0292,1118.00,-718.92)"><text x="300" y="1300" font-size="35" >75</text></g>
<text y="2592" xml:space="preserve"><tspan x="318.6" font-size="165" >2</tspan><tspan class="se" x="400.0" font-size="150" textLength="86" lengthAdjust="spacingAndGlyphs">θ</tspan><tspan x="475.6" font-size="160" dy="-1.6" letter-spacing="-1.1"> (Degrees)</tspan></text>
<text y="659.7" xml:space="preserve"><tspan x="1001.3" font-size="48.5" >2</tspan><tspan class="se" x="1025.4" font-size="44.5" >θ</tspan><tspan x="1043.6" font-size="46.5" dy="-0.8" letter-spacing="0.3"> (Degrees)</tspan></text>
</svg></body></html>
